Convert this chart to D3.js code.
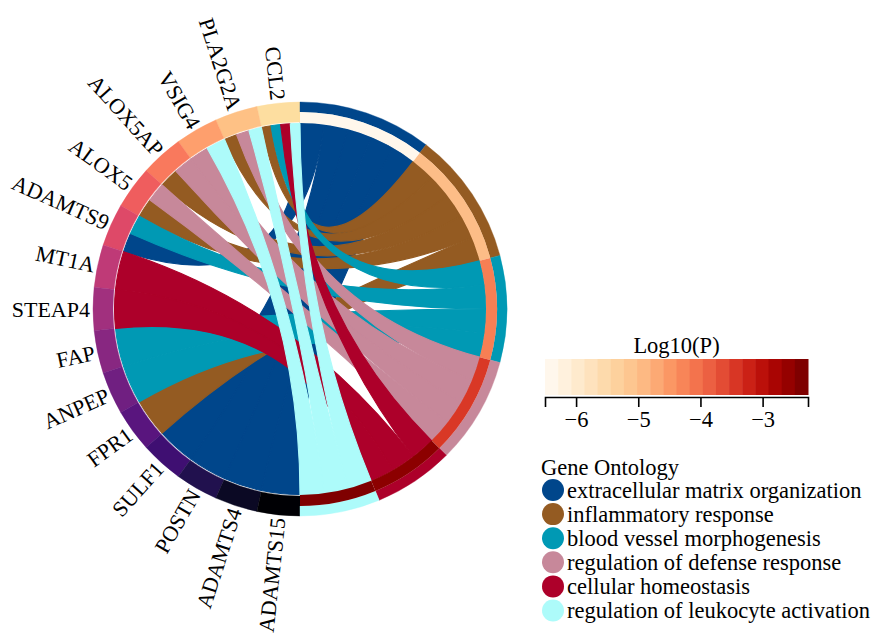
<!DOCTYPE html>
<html>
<head>
<meta charset="utf-8">
<script src="https://cdn.jsdelivr.net/npm/d3@7"></script>
<style>
  body { margin: 0; background: #fff; }
  text { font-family: "Liberation Serif", "Times New Roman", serif; fill: #000; }
</style>
</head>
<body>
<svg id="chart" width="872" height="634"></svg>
<script>
// Genes, in order round the left half of the circle (top to bottom)
const genes = ["CCL2", "PLA2G2A", "VSIG4", "ALOX5AP", "ALOX5", "ADAMTS9", "MT1A",
  "STEAP4", "FAP", "ANPEP", "FPR1", "SULF1", "POSTN", "ADAMTS4", "ADAMTS15"];
// Position of each gene on the magma colour ramp
const geneLevel = [0.93, 0.87, 0.80, 0.72, 0.66, 0.60, 0.52, 0.45, 0.39, 0.33,
  0.27, 0.21, 0.14, 0.07, 0.0];

// GO terms, round the right half (top to bottom)
const terms = ["extracellular matrix organization", "inflammatory response",
  "blood vessel morphogenesis", "regulation of defense response",
  "cellular homeostasis", "regulation of leukocyte activation"];
const termColors = ["#00468B", "#945B22", "#0099B4", "#C7889A", "#AD002A", "#ADFBFA"];
const termLogP = [-6.5, -5.0, -4.2, -3.4, -2.4, -2.27];

// Term membership of each gene (indices into terms)
const geneTerms = [
  [1, 2, 4, 5],  // CCL2
  [1, 3, 5],     // PLA2G2A
  [3, 5],        // VSIG4
  [1, 3],        // ALOX5AP
  [1, 3],        // ALOX5
  [0, 2],        // ADAMTS9
  [4],           // MT1A
  [4],           // STEAP4
  [2],           // FAP
  [2],           // ANPEP
  [1],           // FPR1
  [0],           // SULF1
  [0],           // POSTN
  [0],           // ADAMTS4
  [0]            // ADAMTS15
];

// Colour bar
const barDomain = [-6.5, -2.27];
const barTicks = [-6, -5, -4, -3];
const barSteps = 20;

const cx = 300, cy = 309;
const R = 207, geneInner = 187, ribbonR = 185.5, termMid = 197, termInner = 186;
const labelFont = "22px", legendFont = "22.5px";

const svg = d3.select("#chart");
const g = svg.append("g").attr("transform", `translate(${cx},${cy})`);

const geneAngle = d3.scaleLinear().domain([0, genes.length]).range([2 * Math.PI, Math.PI]);
const geneColor = i => d3.interpolateMagma(geneLevel[i]);
const pColor = d3.scaleSequential(d3.interpolateOrRd).domain(barDomain);

// Gene ends of each ribbon: a gene's arc is shared by its terms
const links = [];
genes.forEach((name, i) => {
  const ts = geneTerms[i];
  const a0 = geneAngle(i + 1), a1 = geneAngle(i);
  const w = (a1 - a0) / ts.length;
  ts.forEach((t, k) => links.push({
    gene: i, term: t,
    source: { startAngle: a0 + k * w, endAngle: a0 + (k + 1) * w, radius: ribbonR }
  }));
});

// Term ends: one equal slot per gene-term link
const linkAngle = d3.scaleLinear().domain([0, links.length]).range([0, Math.PI]);
let pos = 0;
const termSpan = [];
terms.forEach((t, j) => {
  const ls = links.filter(l => l.term === j).sort((a, b) => a.gene - b.gene);
  const start = pos;
  ls.forEach(l => {
    l.target = { startAngle: linkAngle(pos), endAngle: linkAngle(pos + 1), radius: termInner };
    pos++;
  });
  termSpan.push([linkAngle(start), linkAngle(pos)]);
});

const ribbon = d3.ribbon();
g.append("g").selectAll("path")
  .data(links.slice().sort((a, b) => a.term - b.term))
  .join("path")
  .attr("d", ribbon)
  .attr("fill", d => termColors[d.term])
  .attr("stroke", d => termColors[d.term])
  .attr("stroke-width", 1.1)
  .attr("stroke-linejoin", "round");

const arc = d3.arc();

// Gene ring
g.append("g").selectAll("path")
  .data(genes)
  .join("path")
  .attr("d", (d, i) => arc({ innerRadius: geneInner, outerRadius: R,
    startAngle: geneAngle(i + 1), endAngle: geneAngle(i) }))
  .attr("fill", (d, i) => geneColor(i))
  .attr("stroke", (d, i) => geneColor(i))
  .attr("stroke-width", 0.4);

// Term ring: term colour outside, significance inside
g.append("g").selectAll("path")
  .data(terms)
  .join("path")
  .attr("d", (d, j) => arc({ innerRadius: termMid, outerRadius: R,
    startAngle: termSpan[j][0], endAngle: termSpan[j][1] }))
  .attr("fill", (d, j) => termColors[j])
  .attr("stroke", (d, j) => termColors[j])
  .attr("stroke-width", 0.4);
g.append("g").selectAll("path")
  .data(terms)
  .join("path")
  .attr("d", (d, j) => arc({ innerRadius: termInner, outerRadius: termMid,
    startAngle: termSpan[j][0], endAngle: termSpan[j][1] }))
  .attr("fill", (d, j) => pColor(termLogP[j]));

// Gene labels, reading in towards the circle
g.append("g").selectAll("text")
  .data(genes)
  .join("text")
  .attr("transform", (d, i) => {
    const a = (geneAngle(i) + geneAngle(i + 1)) / 2 * 180 / Math.PI;
    return `rotate(${a - 90}) translate(210,0) rotate(180)`;
  })
  .attr("text-anchor", "end")
  .attr("dominant-baseline", "central")
  .style("font-size", labelFont)
  .text(d => d);

// Colour bar for Log10(P)
const bx0 = 545, bx1 = 808, by = 359, bh = 36;
const barX = d3.scaleLinear().domain(barDomain).range([bx0, bx1]);
const stepW = (bx1 - bx0) / barSteps;
svg.append("g").selectAll("rect")
  .data(d3.range(barSteps))
  .join("rect")
  .attr("x", k => bx0 + k * stepW)
  .attr("y", by)
  .attr("width", stepW + 0.5)
  .attr("height", bh)
  .attr("fill", k => d3.interpolateOrRd(k / (barSteps - 1)));
svg.append("text")
  .attr("x", (bx0 + bx1) / 2).attr("y", 345)
  .attr("text-anchor", "middle").attr("dominant-baseline", "central")
  .style("font-size", legendFont)
  .text("Log10(P)");
const axis = svg.append("g")
  .attr("transform", `translate(0,${by + bh + 2})`)
  .call(d3.axisBottom(barX).tickValues(barTicks).tickFormat(d3.format("d"))
    .tickSize(10).tickSizeOuter(10).tickPadding(4));
axis.selectAll("path, line").attr("stroke", "#000").attr("stroke-width", 1.6);
axis.selectAll("text").style("font-size", legendFont)
  .style("font-family", '"Liberation Serif", "Times New Roman", serif');

// Legend
const lg = svg.append("g");
lg.append("text").attr("x", 541).attr("y", 467)
  .attr("dominant-baseline", "central").style("font-size", legendFont).text("Gene Ontology");
const rows = lg.selectAll("g.row").data(terms).join("g")
  .attr("class", "row")
  .attr("transform", (d, j) => `translate(0,${490 + j * 24.1})`);
rows.append("circle").attr("cx", 553).attr("cy", 0).attr("r", 11)
  .attr("fill", (d, j) => termColors[j]);
rows.append("text").attr("x", 567).attr("y", 0)
  .attr("dominant-baseline", "central").style("font-size", legendFont)
  .text(d => d);
</script>
</body>
</html>
